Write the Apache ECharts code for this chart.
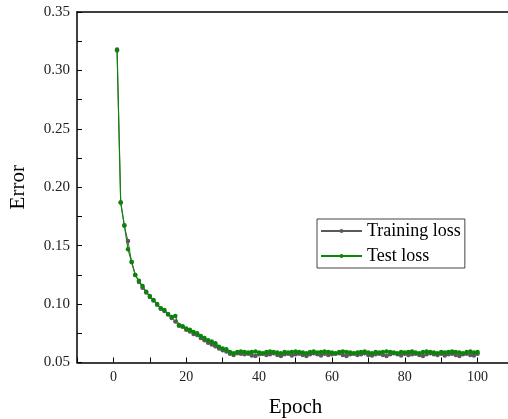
<!DOCTYPE html>
<html>
<head>
<meta charset="utf-8">
<script src="https://cdn.jsdelivr.net/npm/echarts@6/dist/echarts.min.js"></script>
<style>html,body{margin:0;padding:0;background:#fff}#c{width:508px;height:419px}</style>
</head>
<body>
<div id="c"></div>
<script>
var epochs = [];
for (var i = 1; i <= 100; i++) epochs.push(i);

var trainingLoss = [
  0.317, 0.187, 0.167, 0.154, 0.136, 0.125, 0.119, 0.114, 0.110, 0.106,
  0.103, 0.0995, 0.096, 0.094, 0.091, 0.088, 0.085, 0.0815, 0.0805, 0.078,
  0.0765, 0.0745, 0.0735, 0.071, 0.069, 0.067, 0.0655, 0.064, 0.062, 0.0605,
  0.0595, 0.0575, 0.0565, 0.058, 0.0575, 0.057, 0.0575, 0.056, 0.0555, 0.057,
  0.0575, 0.0565, 0.057, 0.058, 0.0565, 0.0555, 0.057, 0.0575, 0.056, 0.057,
  0.0575, 0.0565, 0.0555, 0.057, 0.058, 0.057, 0.056, 0.0575, 0.0565, 0.057,
  0.0575, 0.058, 0.0565, 0.0555, 0.057, 0.0575, 0.0565, 0.057, 0.058, 0.0565,
  0.056, 0.057, 0.0575, 0.0565, 0.0555, 0.057, 0.058, 0.057, 0.056, 0.0575,
  0.0565, 0.057, 0.0575, 0.0565, 0.0555, 0.057, 0.058, 0.057, 0.0565, 0.0575,
  0.056, 0.057, 0.0575, 0.0565, 0.0555, 0.057, 0.0575, 0.0565, 0.056, 0.0575
];

var testLoss = [
  0.318, 0.187, 0.1675, 0.147, 0.136, 0.125, 0.120, 0.1155, 0.1105, 0.107,
  0.1035, 0.100, 0.0965, 0.095, 0.0915, 0.089, 0.0897, 0.082, 0.081, 0.079,
  0.078, 0.076, 0.075, 0.0727, 0.071, 0.069, 0.068, 0.0665, 0.0635, 0.062,
  0.0613, 0.059, 0.058, 0.059, 0.0595, 0.059, 0.0585, 0.059, 0.0595, 0.0585,
  0.058, 0.059, 0.0595, 0.059, 0.0585, 0.058, 0.059, 0.0585, 0.059, 0.0595,
  0.059, 0.0585, 0.058, 0.059, 0.0595, 0.0585, 0.059, 0.0595, 0.059, 0.0585,
  0.058, 0.059, 0.0595, 0.059, 0.0585, 0.058, 0.0585, 0.059, 0.0595, 0.0585,
  0.058, 0.059, 0.0585, 0.059, 0.0595, 0.059, 0.0585, 0.058, 0.059, 0.0585,
  0.059, 0.0595, 0.0585, 0.058, 0.059, 0.0595, 0.059, 0.0585, 0.058, 0.059,
  0.0585, 0.059, 0.0595, 0.059, 0.0585, 0.058, 0.059, 0.0595, 0.0585, 0.059
];

var seriesNames = ['Training loss', 'Test loss'];
var xTitle = 'Epoch';
var yTitle = 'Error';

function pairs(vals) { return vals.map(function (v, i) { return [epochs[i], v]; }); }

var font = 'Liberation Serif';
var chart = echarts.init(document.getElementById('c'));
chart.setOption({
  animation: false,
  backgroundColor: '#fff',
  grid: { left: 77, right: -6, top: 12, bottom: 56.5, outerBoundsMode: 'none', containLabel: false },
  legend: {
    orient: 'vertical',
    left: 317, top: 219,
    padding: [3, 4, 3, 3],
    itemGap: 7,
    itemWidth: 41, itemHeight: 5,
    borderColor: '#444', borderWidth: 1,
    backgroundColor: '#fff',
    textStyle: { fontFamily: font, fontSize: 18, color: '#000' },
    data: seriesNames
  },
  xAxis: [{
    type: 'value', min: -10, max: 110, interval: 10,
    axisLine: { onZero: false, lineStyle: { color: '#000', width: 1.5 } },
    axisTick: { inside: true, length: 5, lineStyle: { color: '#000', width: 1 } },
    splitLine: { show: false },
    axisLabel: {
      margin: 8, fontFamily: font, fontSize: 14, color: '#222',
      formatter: function (v) { return (Math.round(v) % 20 === 0 && v >= 0 && v <= 100) ? String(Math.round(v)) : ''; }
    },
    name: xTitle, nameLocation: 'middle', nameGap: 34,
    nameTextStyle: { fontFamily: font, fontSize: 21, color: '#000' }
  }, {
    type: 'value', position: 'top', min: -10, max: 110,
    axisLine: { show: true, onZero: false, lineStyle: { color: '#000', width: 1.5 } },
    axisTick: { show: false }, axisLabel: { show: false }, splitLine: { show: false }
  }],
  yAxis: {
    type: 'value', min: 0.05, max: 0.35, interval: 0.025,
    axisLine: { show: true, onZero: false, lineStyle: { color: '#000', width: 1.5 } },
    axisTick: { inside: true, length: 5, lineStyle: { color: '#000', width: 1 } },
    splitLine: { show: false },
    axisLabel: {
      margin: 7, fontFamily: font, fontSize: 15, color: '#222',
      formatter: function (v) { var k = Math.round(v * 1000); return k % 50 === 0 ? (k / 1000).toFixed(2) : ''; }
    },
    name: yTitle, nameLocation: 'middle', nameGap: 48, nameRotate: 90,
    nameTextStyle: { fontFamily: font, fontSize: 21, color: '#000' }
  },
  series: [{
    name: seriesNames[0], type: 'line', data: pairs(trainingLoss),
    symbol: 'circle', symbolSize: 4.5, showSymbol: true,
    lineStyle: { color: '#5a5a5a', width: 1 },
    itemStyle: { color: '#5a5a5a' }
  }, {
    name: seriesNames[1], type: 'line', data: pairs(testLoss),
    symbol: 'circle', symbolSize: 4.5, showSymbol: true,
    lineStyle: { color: '#0a850a', width: 1.2 },
    itemStyle: { color: '#0a850a' }
  }]
});
</script>
</body>
</html>
